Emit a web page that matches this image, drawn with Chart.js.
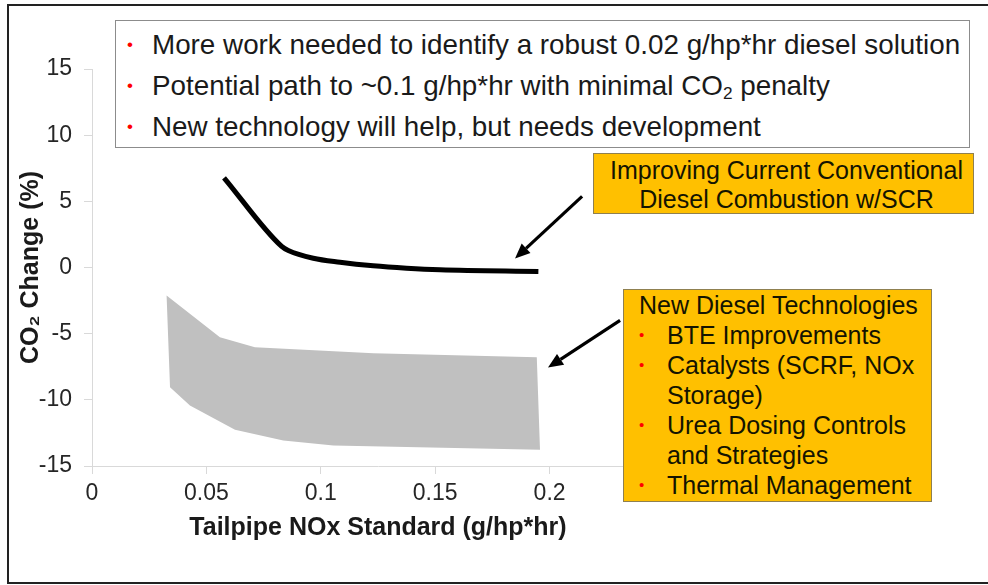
<!DOCTYPE html>
<html>
<head>
<meta charset="utf-8">
<title>CO2 change vs tailpipe NOx standard</title>
<script src="https://cdn.jsdelivr.net/npm/chart.js@4.4.1/dist/chart.umd.min.js"></script>
<style>
  html, body { margin: 0; padding: 0; background: #fff; }
  #wrap { position: relative; width: 988px; height: 585px; overflow: hidden;
          font-family: "Liberation Sans", Arial, sans-serif; color: #1a1a1a; }
  #c { position: absolute; left: 0; top: 0; }
  .frame { position: absolute; left: 7px; top: 4px; width: 1000px; height: 580px;
           border: 2px solid #222; border-right: 0; box-sizing: border-box; pointer-events: none; }
  .note { position: absolute; left: 115px; top: 20px; width: 855px; height: 128px;
          border: 1px solid #8c8c8c; box-sizing: border-box; background: #fff; }
  .note .ln { position: absolute; left: 11px; height: 40px; line-height: 40px;
              font-size: 27.8px; white-space: nowrap; }
  .note .dot { width: 25px; }
  .dot { color: #ff0000; display: inline-block; width: 26px; font-size: 17px;
         vertical-align: top; text-align: left; }
  sub { font-size: 0.62em; vertical-align: -0.22em; line-height: 0; }
  .tag { position: absolute; background: #ffc000; border: 1px solid #8f8050;
         box-sizing: border-box; font-size: 25px; white-space: nowrap; color: #141400; }
  .tag1 { left: 593px; top: 153px; width: 381px; height: 61px; text-align: center;
          line-height: 29px; padding-top: 2px; padding-left: 6px; }
  .tag2 { left: 623px; top: 289px; width: 309px; height: 213px; }
  .tag2 .ln { position: absolute; height: 30px; line-height: 30px; }
  .tag2 .dot { position: absolute; left: -28px; width: 20px; font-size: 15px; }
</style>
</head>
<body>
<div id="wrap">
  <canvas id="c" width="988" height="585"></canvas>

  <div class="note">
    <div class="ln" style="top:4px"><span class="dot">•</span>More work needed to identify a robust 0.02 g/hp*hr diesel solution</div>
    <div class="ln" style="top:45px"><span class="dot">•</span>Potential path to ~0.1 g/hp*hr with minimal CO<sub>2</sub> penalty</div>
    <div class="ln" style="top:86px"><span class="dot">•</span>New technology will help, but needs development</div>
  </div>

  <div class="tag tag1">Improving Current Conventional<br>Diesel Combustion w/SCR</div>

  <div class="tag tag2">
    <div class="ln" style="left:15px;top:0px">New Diesel Technologies</div>
    <div class="ln" style="left:43px;top:30px"><span class="dot">•</span>BTE Improvements</div>
    <div class="ln" style="left:43px;top:60px"><span class="dot">•</span>Catalysts (SCRF, NOx</div>
    <div class="ln" style="left:43px;top:90px">Storage)</div>
    <div class="ln" style="left:43px;top:120px"><span class="dot">•</span>Urea Dosing Controls</div>
    <div class="ln" style="left:43px;top:150px">and Strategies</div>
    <div class="ln" style="left:43px;top:180px"><span class="dot">•</span>Thermal Management</div>
  </div>

  <div class="frame"></div>
</div>

<script>
// Axis ticks
const xTicks = [0, 0.05, 0.1, 0.15, 0.2, 0.25];
const yTicks = [-15, -10, -5, 0, 5, 10, 15];

// Conventional diesel combustion with SCR: NOx (g/hp*hr) vs CO2 change (%)
const conventionalNOx = [0.0577, 0.0829, 0.0858, 0.0967, 0.1084, 0.1229, 0.1375, 0.1521, 0.1951];
const conventionalCO2 = [6.78, 1.59, 1.28, 0.70, 0.40, 0.13, -0.05, -0.17, -0.30];

// New diesel technologies: upper and lower edge of the CO2 band
const bandUpperNOx = [0.0326, 0.0559, 0.0712, 0.1230, 0.1944];
const bandUpperCO2 = [-2.12, -5.27, -6.02, -6.48, -6.78];
const bandLowerNOx = [0.0341, 0.0428, 0.0625, 0.0836, 0.1055, 0.1958];
const bandLowerCO2 = [-9.05, -10.43, -12.27, -13.08, -13.45, -13.78];

// Callout arrows, in axis units: [fromNOx, fromCO2, toNOx, toCO2]
const arrowConventional = [0.2142, 5.37, 0.1849, 0.68];
const arrowNewTech = [0.2308, -4.0, 0.1993, -7.56];

const toPoints = (xs, ys) => xs.map((x, i) => ({ x, y: ys[i] }));

// Closed outline of the band: upper edge left to right, lower edge back
const bandOutline = toPoints(bandUpperNOx, bandUpperCO2)
  .concat(toPoints(bandLowerNOx, bandLowerCO2).reverse());

const arrowPlugin = {
  id: 'calloutArrows',
  afterDatasetsDraw(chart) {
    const { ctx, scales: { x, y } } = chart;
    [arrowConventional, arrowNewTech].forEach(a => {
      const x0 = x.getPixelForValue(a[0]), y0 = y.getPixelForValue(a[1]);
      const x1 = x.getPixelForValue(a[2]), y1 = y.getPixelForValue(a[3]);
      const ang = Math.atan2(y1 - y0, x1 - x0);
      const head = 15, half = 6.5;
      const bx = x1 - head * Math.cos(ang), by = y1 - head * Math.sin(ang);
      ctx.save();
      ctx.strokeStyle = '#000';
      ctx.fillStyle = '#000';
      ctx.lineWidth = 3.2;
      ctx.beginPath();
      ctx.moveTo(x0, y0);
      ctx.lineTo(bx, by);
      ctx.stroke();
      ctx.beginPath();
      ctx.moveTo(x1, y1);
      ctx.lineTo(bx + half * Math.sin(ang), by - half * Math.cos(ang));
      ctx.lineTo(bx - half * Math.sin(ang), by + half * Math.cos(ang));
      ctx.closePath();
      ctx.fill();
      ctx.restore();
    });
  }
};

const axisGrey = '#d9d9d9';
const tickFont = { family: '"Liberation Sans", Arial, sans-serif', size: 23 };
const titleFont = { family: '"Liberation Sans", Arial, sans-serif', size: 25, weight: 'bold' };

new Chart(document.getElementById('c'), {
  type: 'scatter',
  data: {
    datasets: [
      {
        label: 'New Diesel Technologies',
        data: bandOutline,
        showLine: true,
        fill: 'shape',
        backgroundColor: '#c0c0c0',
        borderColor: '#c0c0c0',
        borderWidth: 0,
        pointRadius: 0,
        tension: 0
      },
      {
        label: 'Improving Current Conventional Diesel Combustion w/SCR',
        data: toPoints(conventionalNOx, conventionalCO2),
        showLine: true,
        fill: false,
        borderColor: '#000',
        borderWidth: 5,
        pointRadius: 0,
        cubicInterpolationMode: 'monotone',
        borderCapStyle: 'butt'
      }
    ]
  },
  options: {
    responsive: false,
    animation: false,
    devicePixelRatio: 1,
    layout: { padding: { left: 16, top: 69, right: 324, bottom: 42 } },
    plugins: { legend: { display: false }, tooltip: { enabled: false } },
    scales: {
      x: {
        type: 'linear',
        min: 0,
        max: 0.25,
        afterBuildTicks: s => { s.ticks = xTicks.map(v => ({ value: v })); },
        afterFit: s => { s.height = 77; },
        ticks: { font: tickFont, color: '#262626', padding: 6, callback: v => String(v) },
        grid: { drawOnChartArea: false, drawTicks: true, tickLength: 8, color: axisGrey },
        border: { display: true, color: axisGrey, width: 1 },
        title: { display: true, text: 'Tailpipe NOx Standard (g/hp*hr)', font: titleFont,
                 color: '#1a1a1a', padding: 0 }
      },
      y: {
        type: 'linear',
        min: -15,
        max: 15,
        afterBuildTicks: s => { s.ticks = yTicks.map(v => ({ value: v })); },
        afterFit: s => { s.width = 76; },
        ticks: { font: tickFont, color: '#262626', padding: 12, callback: v => String(v) },
        grid: { drawOnChartArea: false, drawTicks: true, tickLength: 8, color: axisGrey },
        border: { display: true, color: axisGrey, width: 1 },
        title: { display: true, text: 'CO₂ Change (%)', font: titleFont,
                 color: '#1a1a1a', padding: 0 }
      }
    }
  },
  plugins: [arrowPlugin]
});
</script>
</body>
</html>
